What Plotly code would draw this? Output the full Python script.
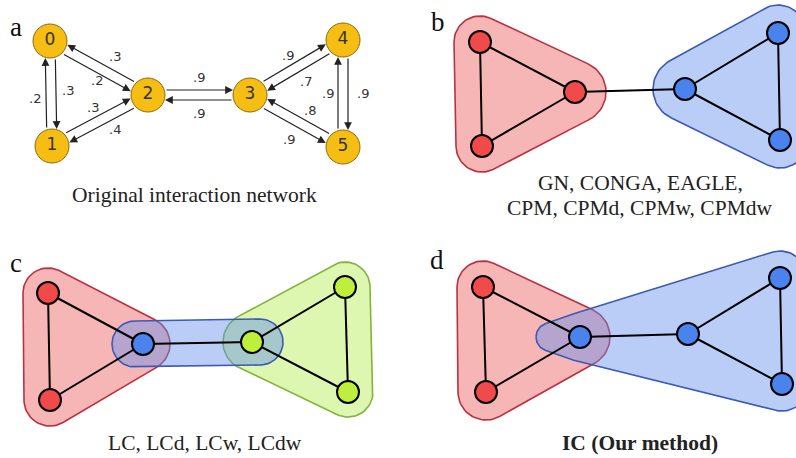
import numpy as np
import plotly.graph_objects as go

# ---------------- data ----------------
# Panel a: original interaction network (directed, weighted)
A_LABELS = ["0", "1", "2", "3", "4", "5"]
A_X = [50, 52, 148, 250, 343, 343]
A_Y = [41, 146, 95, 95, 40, 147]
# (source, target, weight)
A_EDGES = [(0, 1, ".3"), (1, 0, ".2"), (0, 2, ".2"), (2, 0, ".3"),
           (1, 2, ".3"), (2, 1, ".4"), (2, 3, ".9"), (3, 2, ".9"),
           (3, 4, ".9"), (4, 3, ".7"), (3, 5, ".9"), (5, 3, ".8"),
           (4, 5, ".9"), (5, 4, ".9")]

# Panels b-d share the same undirected topology
EDGES = [(0, 1), (0, 2), (1, 2), (2, 3), (3, 4), (3, 5), (4, 5)]

B_X = [480, 482, 575, 685, 778, 780]
B_Y = [42, 146, 92, 89, 33, 140]
B_GROUP = ["red", "red", "red", "blue", "blue", "blue"]

C_X = [48, 50, 143, 252, 345, 348]
C_Y = [293, 400, 344, 342, 287, 392]
C_GROUP = ["red", "red", "blue", "green", "green", "green"]

D_X = [483, 486, 580, 688, 780, 782]
D_Y = [287, 392, 337, 334, 278, 384]
D_GROUP = ["red", "red", "blue", "blue", "blue", "blue"]

CAPTIONS = ["Original interaction network",
            "GN, CONGA, EAGLE,",
            "CPM, CPMd, CPMw, CPMdw",
            "LC, LCd, LCw, LCdw",
            "<b>IC (Our method)</b>"]
PANEL_LETTERS = ["a", "b", "c", "d"]

# ---------------- styles ----------------
NODE_COL = {"red": "#F04A4A", "blue": "#4A82EE", "green": "#BDEF3C"}
HULL_FILL = {"red": "rgba(240,110,110,0.5)", "blue": "rgba(100,145,235,0.45)",
             "green": "rgba(180,235,80,0.45)"}
HULL_EDGE = {"red": "rgb(185,50,65)", "blue": "rgb(60,90,180)",
             "green": "rgb(130,180,60)"}

# hull specs: (group, [(node index, dx, dy, pad radius), ...])
B_HULLS = [("red", [(0, 0, 0, 26), (1, 0, 0, 26), (2, 0, 0, 31)]),
           ("blue", [(3, 0, 0, 32), (4, 0, 0, 28), (5, 0, 0, 28)])]
C_HULLS = [("red", [(0, 0, 0, 25), (1, 0, 0, 26), (2, 0, 0, 27)]),
           ("green", [(3, 0, 0, 29), (4, 0, 0, 25), (5, 0, 0, 25)]),
           ("blue", [(2, -8, 0, 23), (3, 8, 0, 23)])]
D_HULLS = [("red", [(0, 0, 0, 26), (1, 0, 0, 28), (2, 0, 0, 30)]),
           ("blue", [(2, -30, 0, 14), (2, 0, 0, 24), (3, 0, 0, 26),
                     (4, 0, 0, 27), (5, 0, 0, 27)])]

# arrow layout in panel a: side of parallel offset, label position t, label dist
A_SIDE = [1, 1, -1, -1, 1, 1, 1, 1, 1, 1, -1, -1, 1, 1]
A_T = [0.47, 0.46, 0.54, 0.43, 0.5, 0.42, 0.5, 0.5, 0.49, 0.49, 0.52, 0.44, 0.5, 0.5]
A_DIST = [17, 16, 12, 18, 15, 15, 18, 18, 15, 17, 20, 16, 20, 15]


def hull_polygon(circles, n=72):
    pts = []
    for (x, y, r) in circles:
        for t in np.linspace(0, 2 * np.pi, n, endpoint=False):
            pts.append((x + r * np.cos(t), y + r * np.sin(t)))
    pts = sorted(set((round(px, 3), round(py, 3)) for px, py in pts))

    def cross(o, a, b):
        return (a[0] - o[0]) * (b[1] - o[1]) - (a[1] - o[1]) * (b[0] - o[0])

    lower, upper = [], []
    for p in pts:
        while len(lower) >= 2 and cross(lower[-2], lower[-1], p) <= 0:
            lower.pop()
        lower.append(p)
    for p in reversed(pts):
        while len(upper) >= 2 and cross(upper[-2], upper[-1], p) <= 0:
            upper.pop()
        upper.append(p)
    h = lower[:-1] + upper[:-1]
    h.append(h[0])
    return [p[0] for p in h], [p[1] for p in h]


fig = go.Figure()


def add_hulls(xs, ys, hulls):
    for grp, spec in hulls:
        circles = [(xs[i] + dx, ys[i] + dy, r) for i, dx, dy, r in spec]
        hx, hy = hull_polygon(circles)
        fig.add_trace(go.Scatter(x=hx, y=hy, mode="lines", fill="toself",
                                 fillcolor=HULL_FILL[grp],
                                 line=dict(color=HULL_EDGE[grp], width=1.6),
                                 hoverinfo="skip", showlegend=False))


def add_graph(xs, ys, groups):
    ex, ey = [], []
    for a, b in EDGES:
        ex += [xs[a], xs[b], None]
        ey += [ys[a], ys[b], None]
    fig.add_trace(go.Scatter(x=ex, y=ey, mode="lines",
                             line=dict(color="black", width=2),
                             hoverinfo="skip", showlegend=False))
    fig.add_trace(go.Scatter(x=xs, y=ys, mode="markers",
                             marker=dict(size=22, color=[NODE_COL[g] for g in groups],
                                         line=dict(color="black", width=2)),
                             hoverinfo="skip", showlegend=False))


add_hulls(B_X, B_Y, B_HULLS)
add_graph(B_X, B_Y, B_GROUP)
add_hulls(C_X, C_Y, C_HULLS)
add_graph(C_X, C_Y, C_GROUP)
add_hulls(D_X, D_Y, D_HULLS)
add_graph(D_X, D_Y, D_GROUP)

# panel a nodes
fig.add_trace(go.Scatter(x=A_X, y=A_Y, mode="markers+text", text=A_LABELS,
                         textposition="middle center",
                         textfont=dict(family="DejaVu Sans", size=17, color="#333333"),
                         marker=dict(size=34, color="#F6BE12",
                                     line=dict(color="#8C6A12", width=1)),
                         hoverinfo="skip", showlegend=False))

annotations = []
OFF = 5
for k, (s, t, w) in enumerate(A_EDGES):
    x0, y0, x1, y1 = A_X[s], A_Y[s], A_X[t], A_Y[t]
    dx, dy = x1 - x0, y1 - y0
    L = np.hypot(dx, dy)
    ux, uy = dx / L, dy / L
    px, py = uy * A_SIDE[k], -ux * A_SIDE[k]  # left-of-travel * side
    sx, sy = x0 + px * OFF, y0 + py * OFF
    tx, ty = x1 + px * OFF, y1 + py * OFF
    annotations.append(dict(x=tx, y=ty, ax=sx, ay=sy, xref="x", yref="y",
                            axref="x", ayref="y", text="", showarrow=True,
                            arrowhead=2, arrowsize=1.3, arrowwidth=1.2,
                            arrowcolor="#222222", standoff=17, startstandoff=17))
    lx = x0 + dx * A_T[k] + px * A_DIST[k]
    ly = y0 + dy * A_T[k] + py * A_DIST[k]
    annotations.append(dict(x=lx, y=ly, xref="x", yref="y", text=w,
                            showarrow=False,
                            font=dict(family="DejaVu Sans", size=13, color="#333333")))

CAP_POS = [(194, 195), (640, 183), (640, 208), (205, 443), (640, 443)]
for (cx, cy), txt in zip(CAP_POS, CAPTIONS):
    annotations.append(dict(x=cx, y=cy, xref="x", yref="y", text=txt,
                            showarrow=False,
                            font=dict(family="Liberation Serif", size=21.5, color="#222222")))

LET_POS = [(16, 27), (438, 22), (16, 263), (437, 260)]
for (lx, ly), txt in zip(LET_POS, PANEL_LETTERS):
    annotations.append(dict(x=lx, y=ly, xref="x", yref="y", text=txt,
                            showarrow=False,
                            font=dict(family="Liberation Serif", size=27, color="#111111")))

fig.update_layout(
    width=796, height=458,
    margin=dict(l=0, r=0, t=0, b=0),
    paper_bgcolor="white", plot_bgcolor="white",
    xaxis=dict(range=[0, 796], visible=False, fixedrange=True),
    yaxis=dict(range=[458, 0], visible=False, fixedrange=True),
    annotations=annotations,
    showlegend=False,
)

fig.write_html("out.html", config={"displayModeBar": False},
               post_script="document.body.style.margin='0';")
